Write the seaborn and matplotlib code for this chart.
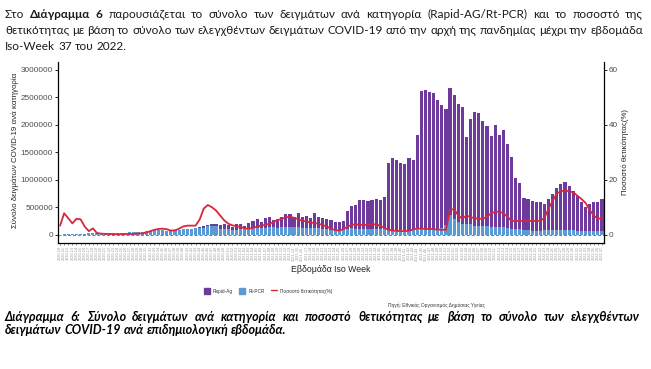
import numpy as np
import pandas as pd
import matplotlib
matplotlib.use('Agg')
import matplotlib.pyplot as plt
import matplotlib.patches as mpatches
import matplotlib.lines as mlines
import seaborn as sns

# ISO weeks: 2020-W10 .. 2022-W37
years = [2020] * 44 + [2021] * 52 + [2022] * 37
weeks = list(range(10, 54)) + list(range(1, 53)) + list(range(1, 38))
week_labels = [f'{y}-{w:02d}' for y, w in zip(years, weeks)]

# total samples per week (thousands) = Rapid-Ag + Rt-PCR
total_k = [3, 8, 12, 15, 18, 20, 22, 24, 26, 28,
           30, 30, 32, 34, 36, 38, 40, 42,
           45, 50, 55, 60,
           75, 80, 85, 80, 75, 80, 85, 90, 95, 100,
           110, 130, 145, 160,
           175, 194, 194, 176, 194, 176, 145, 190, 194, 164, 206,
           248, 285, 224, 297, 327, 267, 285, 327, 370, 376, 327, 400, 327, 340, 297, 400, 315,
           300, 290, 265, 236, 224, 255, 436, 527, 545, 625, 625, 612, 625, 655, 630, 690,
           1300, 1390, 1360, 1300, 1280, 1390, 1360, 1810,
           2620, 2630, 2600, 2580, 2440, 2350, 2290, 2670, 2540, 2380, 2320, 1770, 2100, 2230,
           2210, 2070, 1970, 1800, 2000, 1810, 1910, 1650, 1420, 1040, 940, 670, 650, 620, 600,
           590, 560, 650, 740, 850, 920, 960, 890, 790, 700, 600, 510, 560, 590, 590, 650]

# Rt-PCR samples per week (thousands)
pcr_k = [3, 8, 12, 15, 18, 20, 22, 24, 26, 28,
         30, 30, 32, 34, 36, 38, 40, 42,
         45, 50, 55, 60,
         75, 80, 85, 80, 75, 80, 85, 90, 95, 100,
         110, 120, 125, 130,
         150, 160, 150, 110, 100, 95, 85, 90, 100, 95, 110,
         120, 130, 120, 130, 140, 135, 130, 140, 145, 145, 135, 140, 130, 125, 120, 125, 115,
         105, 100, 90, 80, 75, 85, 110, 115, 110, 105, 100, 100, 95, 95, 100, 100,
         85, 80, 80, 80, 85, 90, 95, 100,
         100, 100, 95, 100, 110, 130, 170, 350, 290, 240, 200, 195, 190, 155,
         150, 150, 150, 145, 145, 140, 140, 120, 110, 100, 95, 80, 78, 75, 75,
         72, 80, 85, 90, 90, 90, 88, 85, 80, 70, 65, 62, 60, 60, 60, 60]

# positivity rate (%)
positivity = [3.3, 7.8, 6.0, 4.1, 5.8, 5.6, 3.0, 1.3, 2.3, 0.6,
              0.4, 0.3, 0.3, 0.2, 0.2, 0.2, 0.3, 0.3,
              0.3, 0.4, 0.5, 0.8,
              1.3, 1.8, 2.1, 2.2, 2.0, 1.5, 1.6, 2.2, 3.0, 3.3,
              3.3, 3.3, 5.5, 9.5,
              10.8, 10.0, 8.8, 7.0, 5.2, 4.0, 3.4, 3.1, 2.8, 2.3, 2.2,
              2.5, 2.9, 3.3, 3.6, 4.0, 4.6, 5.3, 5.8, 6.3, 6.5, 6.2, 5.6, 5.1, 4.8, 4.5, 4.2, 4.0,
              3.5, 3.0, 2.2, 1.7, 1.5, 2.0, 2.9, 3.6, 3.8, 3.6, 3.5, 3.6, 3.9, 3.7, 3.3, 2.5,
              1.8, 1.5, 1.4, 1.3, 1.3, 1.5, 1.9, 2.3,
              2.2, 2.1, 2.1, 2.0, 1.9, 1.8, 1.8, 9.0, 9.3, 7.0, 5.8, 7.0, 6.4, 6.0,
              5.8, 5.8, 6.5, 7.8, 8.3, 8.4, 7.8, 6.5, 5.0, 5.0, 5.0, 5.0, 5.0, 5.0, 5.0,
              5.0, 6.2, 9.5, 12.3, 15.0, 15.8, 16.1, 15.8, 15.4, 14.2, 13.0, 11.6, 9.0, 7.0, 5.8, 6.0]

df = pd.DataFrame({'week': week_labels,
                   'total': np.array(total_k) * 1000,
                   'pcr': np.array(pcr_k) * 1000,
                   'pct': positivity})
df['pos'] = np.arange(len(df))

purple = '#6E3A9E'
blue = '#5B9BD5'
red = '#D7263D'

sns.set_theme(style='white')
plt.rcParams['font.family'] = ['Liberation Sans', 'DejaVu Sans']

W, H = 651, 369
fig = plt.figure(figsize=(W / 100, H / 100), dpi=100)
ax = fig.add_axes([58 / W, 1 - 242.7 / H, 546 / W, (242.7 - 61.7) / H])

# stacked look: total bar in purple, PCR drawn over it from zero
sns.barplot(data=df, x='week', y='total', color=purple, width=0.78, saturation=1,
            errorbar=None, ax=ax, order=week_labels, linewidth=0)
sns.barplot(data=df, x='week', y='pcr', color=blue, width=0.78, saturation=1,
            errorbar=None, ax=ax, order=week_labels, linewidth=0)
ax.axhline(0, ls=(0, (3, 2)), color='#4F81BD', lw=0.7, zorder=0.8)

ax.set_xlim(-0.5, len(df) - 0.5)
ax.set_ylim(-145000, 3145000)
yt = [0, 500000, 1000000, 1500000, 2000000, 2500000, 3000000]
ax.set_yticks(yt)
ax.set_yticklabels([str(v) for v in yt])
ax.set_xticks(df['pos'])
ax.set_xticklabels(week_labels, rotation=90)
ax.set_xlabel('')
ax.set_ylabel('')
ax.tick_params(axis='y', length=2, width=0.6, color='black', labelsize=5.9,
               labelcolor='#4D4D4D', pad=1.5, left=True)
ax.tick_params(axis='x', length=1.5, width=0.4, color='#333333', labelsize=2.8,
               labelcolor='#999999', pad=1, bottom=True)
for s in ['top', 'right']:
    ax.spines[s].set_visible(False)
for s in ['left', 'bottom']:
    ax.spines[s].set_color('black')
    ax.spines[s].set_linewidth(0.9)

ax2 = ax.twinx()
sns.lineplot(x=df['pos'], y=df['pct'], color=red, lw=1.3, ax=ax2)
ax2.set_ylim(-2.9, 62.9)
ax2.set_yticks([0, 20, 40, 60])
ax2.set_ylabel('')
ax2.tick_params(axis='y', length=2, width=0.6, color='black', labelsize=5.9,
                labelcolor='#4D4D4D', pad=1.5, right=True)
for s in ['top', 'left', 'bottom']:
    ax2.spines[s].set_visible(False)
ax2.spines['right'].set_color('black')
ax2.spines['right'].set_linewidth(0.9)

# axis titles
fig.text(15 / W, 1 - 150 / H, 'Σύνολο δειγμάτων COVID-19 ανά κατηγορία', rotation=90,
         ha='center', va='center', fontsize=5.7, color='#222222')
fig.text(625 / W, 1 - 152 / H, 'Ποσοστό θετικότητας(%)', rotation=90,
         ha='center', va='center', fontsize=5.7, color='#222222')
fig.text(331 / W, 1 - 269.5 / H, 'Εβδομάδα Iso Week', ha='center', va='center',
         fontsize=6.3, color='#222222')

# legend
handles = [mpatches.Patch(color=purple), mpatches.Patch(color=blue),
           mlines.Line2D([], [], color=red, lw=1.0)]
fig.legend(handles, ['Rapid-Ag', 'Rt-PCR', 'Ποσοστό θετικότητας(%)'],
           loc='center', bbox_to_anchor=(268 / W, 1 - 291 / H), ncol=3, frameon=False,
           fontsize=3.4, handlelength=1.3, handleheight=1.4, columnspacing=1.3,
           handletextpad=0.6, labelcolor='#333333')

fig.text(485 / W, 1 - 305 / H, 'Πηγή: Εθνικός Οργανισμός Δημόσιας Υγείας', ha='right',
         va='center', fontsize=3.5, color='#333333')

renderer = fig.canvas.get_renderer()


def text_line(words, x0, y, x1=None, **kw):
    """Place words left to right; if x1 is given, justify between x0 and x1 (pixels)."""
    arts = []
    for w, extra in words:
        arts.append(fig.text(0, 1 - y / H, w, va='center', ha='left', **kw, **extra))
    widths = [a.get_window_extent(renderer).width for a in arts]
    space = fig.text(0, 0, 'a b', **kw).get_window_extent(renderer).width - \
        fig.text(0, 0, 'ab', **kw).get_window_extent(renderer).width
    for a in fig.texts[-2:]:
        a.remove()
    if x1 is not None and len(arts) > 1:
        gap = (x1 - x0 - sum(widths)) / (len(arts) - 1)
    else:
        gap = space
    x = x0
    for a, wd in zip(arts, widths):
        a.set_x(x / W)
        x += wd + gap


def split(s, **extra):
    return [(w, extra) for w in s.split()]


para = dict(fontsize=8.45, color='#1a1a1a', family=['Lato', 'DejaVu Sans'])
text_line(split('Στο') + split('Διάγραμμα 6', weight='bold') +
          split('παρουσιάζεται το σύνολο των δειγμάτων ανά κατηγορία (Rapid-AG/Rt-PCR) και το ποσοστό της'),
          5, 14, 643, **para)
text_line(split('θετικότητας με βάση το σύνολο των ελεγχθέντων δειγμάτων COVID-19 από την αρχή της πανδημίας μέχρι την εβδομάδα'),
          5, 31, 643, **para)
text_line(split('Iso-Week 37 του 2022.'), 5, 47, **para)

cap = dict(fontsize=9.0, color='black', weight='bold', style='italic',
           family=['Lato', 'DejaVu Sans'])
text_line(split('Διάγραμμα 6:') + split('Σύνολο δειγμάτων ανά κατηγορία και ποσοστό θετικότητας με βάση το σύνολο των ελεγχθέντων'),
          5, 317, 640, **cap)
text_line(split('δειγμάτων COVID-19 ανά επιδημιολογική εβδομάδα.'), 5, 330, **cap)

fig.savefig('out.png', dpi=100)
